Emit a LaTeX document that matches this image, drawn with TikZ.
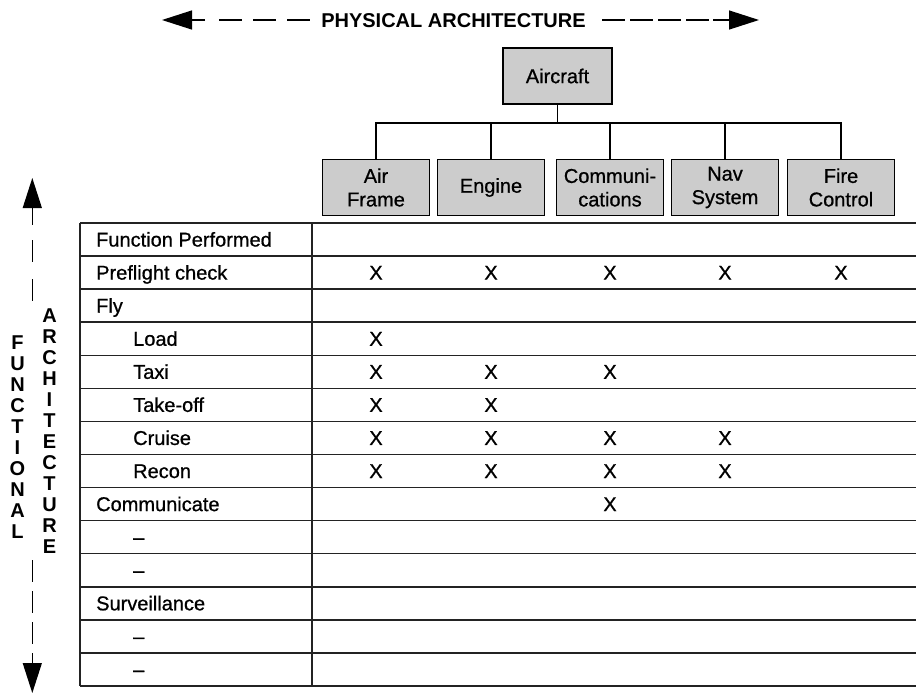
\documentclass[tikz,border=0pt]{standalone}
\usepackage{fontspec}
\setmainfont{Liberation Sans}[UprightFeatures={FakeBold=0.8}]
\usetikzlibrary{arrows.meta}
\definecolor{boxgray}{RGB}{204,204,204}
\definecolor{rulegray}{RGB}{35,35,35}
\begin{document}
\begin{tikzpicture}[x=1pt,y=-1pt,
  every node/.style={font=\fontsize{20}{23.5}\selectfont, inner sep=0pt, text=black},
  box/.style={draw=black, line width=1.3pt, fill=boxgray, minimum width=107pt,
    minimum height=56pt, align=center},
  treeline/.style={draw=black, line width=1.3pt},
  gridline/.style={draw=rulegray, line width=1.5pt},
  bigtip/.style={-{Triangle[length=30pt,width=19pt]}},
  axisline/.style={draw=black, line width=1.3pt},
  vlabel/.style={font=\bfseries\fontsize{20}{21}\selectfont, anchor=base},
  rowlabel/.style={anchor=base west},
  xmark/.style={anchor=base}
]
\useasboundingbox (0,0) rectangle (916,694);

% ---- physical architecture axis ----
\node[font=\bfseries\fontsize{20}{24}\selectfont, anchor=base] (phys) at (453.5,27) {PHYSICAL ARCHITECTURE};
\draw[axisline, bigtip] (205,20) -- (162,20);
\draw[axisline, dash pattern=on 23pt off 11pt] (219,20) -- (310,20);
\draw[axisline, dash pattern=on 23pt off 5pt] (602,20) -- (709,20);
\draw[axisline, bigtip] (713,20) -- (759,20);

% ---- physical tree ----
\node[box, minimum width=109pt] (aircraft) at (557.5,76) {Aircraft};
\node[box] (c1) at (376,187.5) {Air\\Frame};
\node[box] (c2) at (491,187.5) {Engine};
\node[box] (c3) at (610,187.5) {Communi-\\cations};
\node[box] (c4) at (725,187.5) {Nav\\System};
\node[box] (c5) at (841,187.5) {Fire\\Control};
\coordinate (bar) at (557.5,123);
\draw[treeline] (aircraft.south) -- (bar);
\draw[treeline] (c1.north) -- (c1.north |- bar) -- (c5.north |- bar) -- (c5.north);
\foreach \c in {c2,c3,c4} \draw[treeline] (\c.north) -- (\c.north |- bar);

% ---- functional architecture axis ----
\draw[axisline, bigtip] (32.3,209) -- (32.3,178);
\draw[axisline] (32.3,209) -- (32.3,225);
\draw[axisline, dash pattern=on 22pt off 17pt] (32.3,240) -- (32.3,301);
\draw[axisline, dash pattern=on 22pt off 9pt] (32.3,560) -- (32.3,644);
\draw[axisline, bigtip] (32.3,653) -- (32.3,693);
\foreach \l [count=\i] in {F,U,N,C,T,I,O,N,A,L}
  \node[vlabel] (fn\i) at (17.5,{349.3+21*(\i-1)}) {\l};
\foreach \l [count=\i] in {A,R,C,H,I,T,E,C,T,U,R,E}
  \node[vlabel] (ar\i) at (49.5,{322.3+21*(\i-1)}) {\l};

% ---- matrix grid ----
\def\rowh{33.07}
\foreach \i in {0,...,14}
  \draw[gridline] (80,{223+\i*\rowh}) -- (916,{223+\i*\rowh});
\draw[gridline] (80,223) -- (80,686);
\draw[gridline] (312,223) -- (312,686);

% ---- row labels ----
\foreach \t/\x [count=\i] in {Function Performed/96, Preflight check/96, Fly/96,
    Load/133, Taxi/133, Take-off/133, Cruise/133, Recon/133, Communicate/96,
    --/133, --/133, Surveillance/96, --/133, --/133}
  \node[rowlabel] (row\i) at (\x,{223+(\i-0.5)*\rowh+7}) {\t};

% ---- allocation marks ----
\foreach \r/\cols in {2/{1,2,3,4,5}, 4/{1}, 5/{1,2,3}, 6/{1,2}, 7/{1,2,3,4},
    8/{1,2,3,4}, 9/{3}}
  \foreach \c in \cols
    \node[xmark] (x\r-\c) at (c\c |- row\r.base) {X};
\end{tikzpicture}
\end{document}
